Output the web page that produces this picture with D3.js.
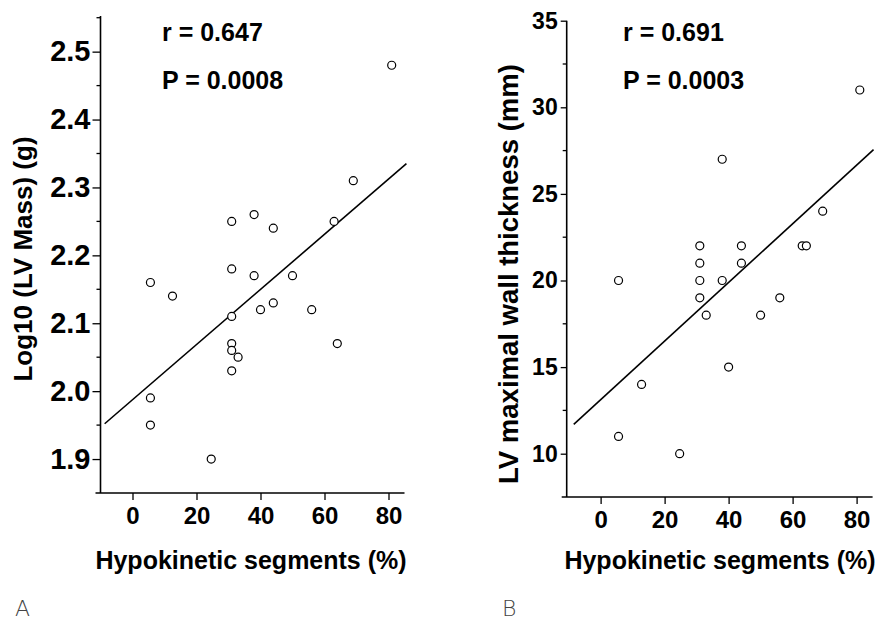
<!DOCTYPE html>
<meta charset="utf-8">
<style>
    html, body {
        margin: 0;
        padding: 0;
        background: #fff;
    }
    svg {
        display: block;
        font-family: "Liberation Sans", Arial, sans-serif;
    }
    .tick text {
        font-weight: bold;
        fill: #000;
    }
    .stat, .title {
        font-weight: bold;
        fill: #000;
    }
    .panel-label {
        font-family: "DejaVu Sans", sans-serif;
        font-weight: 200;
        fill: #444;
    }
</style>
<div id="chart"></div>
<script src="https://d3js.org/d3.v7.min.js"></script>
<script>
    // Panel A: hypokinetic segments (%) vs log10 LV mass
    const hypoA = [81, 69, 63, 31, 38, 44, 31, 38, 50, 5.6, 12.5, 31, 40, 44, 56, 64, 31, 31, 33, 31, 5.6, 5.6, 24.6];
    const massA = [2.48, 2.31, 2.25, 2.25, 2.26, 2.24, 2.18, 2.17, 2.17, 2.16, 2.14, 2.11, 2.12, 2.13, 2.12, 2.07, 2.07, 2.06, 2.05, 2.03, 1.99, 1.95, 1.90];
    const fitA = [[-8.7, 1.952], [85.6, 2.335]];
    const statsA = ["r = 0.647", "P = 0.0008"];
    const yTicksA = [1.9, 2.0, 2.1, 2.2, 2.3, 2.4, 2.5];
    const yMinorA = [1.95, 2.05, 2.15, 2.25, 2.35, 2.45, 2.55];

    // Panel B: hypokinetic segments (%) vs LV maximal wall thickness
    const hypoB = [81, 38, 69.4, 31, 44, 63, 64.3, 31, 44, 5.6, 31, 38, 31, 56, 33, 50, 40, 12.8, 5.6, 24.7];
    const wallB = [31, 27, 24, 22, 22, 22, 22, 21, 21, 20, 20, 20, 19, 19, 18, 18, 15, 14, 11, 10];
    const fitB = [[-8.4, 11.69], [85.3, 27.56]];
    const statsB = ["r = 0.691", "P = 0.0003"];
    const yTicksB = [10, 15, 20, 25, 30, 35];
    const yMinorB = [12.5, 17.5, 22.5, 27.5, 32.5];

    const xTicks = [0, 20, 40, 60, 80];
    const xTitle = "Hypokinetic segments (%)";

    const svg = d3.select("#chart").append("svg")
        .attr("width", 879)
        .attr("height", 624);

    function drawPanel(p) {
        const g = svg.append("g");

        const x = d3.scaleLinear().domain(p.xDomain).range(p.xRange);
        const y = d3.scaleLinear().domain(p.yDomain).range(p.yRange);

        // x axis
        const xAxis = g.append("g")
            .attr("transform", `translate(0,${p.yRange[0]})`)
            .call(d3.axisBottom(x).tickValues(xTicks).tickSize(7).tickSizeOuter(0).tickPadding(7));
        xAxis.select(".domain").remove();
        xAxis.selectAll(".tick line").attr("stroke-width", 1.3);
        xAxis.selectAll(".tick text").style("font-size", p.xTickFont + "px");
        g.append("line")
            .attr("x1", p.xRange[0] - 5).attr("x2", p.xRange[1])
            .attr("y1", p.yRange[0]).attr("y2", p.yRange[0])
            .attr("stroke", "#000").attr("stroke-width", 1.6);

        // y axis
        const yAxis = g.append("g")
            .attr("transform", `translate(${p.xRange[0]},0)`)
            .call(d3.axisLeft(y).tickValues(p.yTicks).tickFormat(p.yFormat)
                .tickSize(p.yTickLen).tickSizeOuter(0).tickPadding(p.yPad));
        yAxis.select(".domain").remove();
        yAxis.selectAll(".tick line").attr("stroke-width", 1.3);
        yAxis.selectAll(".tick text").style("font-size", p.yTickFont + "px");
        g.selectAll(".minor")
            .data(p.yMinor)
            .join("line")
            .attr("x1", p.xRange[0] - 4).attr("x2", p.xRange[0])
            .attr("y1", d => y(d)).attr("y2", d => y(d))
            .attr("stroke", "#000").attr("stroke-width", 1.3);
        g.append("line")
            .attr("x1", p.xRange[0]).attr("x2", p.xRange[0])
            .attr("y1", p.yRange[0]).attr("y2", p.yTop)
            .attr("stroke", "#000").attr("stroke-width", 1.6);

        // regression line
        g.append("path")
            .datum(p.fit)
            .attr("d", d3.line().x(d => x(d[0])).y(d => y(d[1])))
            .attr("fill", "none")
            .attr("stroke", "#000")
            .attr("stroke-width", 1.6);

        // points
        g.selectAll("circle")
            .data(p.xs)
            .join("circle")
            .attr("cx", d => x(d))
            .attr("cy", (d, i) => y(p.ys[i]))
            .attr("r", 4)
            .attr("fill", "#fff")
            .attr("stroke", "#000")
            .attr("stroke-width", 1.2);

        // stats
        g.selectAll(".stat")
            .data(p.stats)
            .join("text")
            .attr("class", "stat")
            .attr("x", p.statX)
            .attr("y", (d, i) => 41 + i * 47.5)
            .style("font-size", "25px")
            .text(d => d);

        // titles
        g.append("text")
            .attr("class", "title")
            .attr("x", p.xTitleX).attr("y", 569)
            .attr("text-anchor", "middle")
            .style("font-size", "25px")
            .text(xTitle);

        g.append("text")
            .attr("class", "title")
            .attr("transform", `translate(${p.yTitleX},${p.yTitleY}) rotate(-90)`)
            .attr("text-anchor", "middle")
            .style("font-size", p.yTitleFont + "px")
            .text(p.yTitle);

        g.append("text")
            .attr("class", "panel-label")
            .attr("x", p.labelX).attr("y", 616)
            .style("font-size", "22px")
            .text(p.label);
    }

    drawPanel({
        xs: hypoA, ys: massA, fit: fitA, stats: statsA,
        xDomain: [-10, 85], xRange: [100.5, 404.5],
        yDomain: [1.85, 2.55], yRange: [493, 17.7], yTop: 16,
        yTicks: yTicksA, yMinor: yMinorA, yFormat: d3.format(".1f"),
        yTickLen: 8, yPad: 2, yTickFont: 29, xTickFont: 24,
        statX: 162,
        xTitleX: 251, yTitleX: 32, yTitleY: 259, yTitleFont: 26,
        yTitle: "Log10 (LV Mass) (g)",
        labelX: 15, label: "A"
    });

    drawPanel({
        xs: hypoB, ys: wallB, fit: fitB, stats: statsB,
        xDomain: [-10.6, 85], xRange: [566.7, 872.6],
        yDomain: [7.5, 35], yRange: [497, 20.7], yTop: 20.7,
        yTicks: yTicksB, yMinor: yMinorB, yFormat: d3.format("d"),
        yTickLen: 6, yPad: 3, yTickFont: 23, xTickFont: 24,
        statX: 623,
        xTitleX: 720, yTitleX: 518, yTitleY: 274, yTitleFont: 27.5,
        yTitle: "LV maximal wall thickness (mm)",
        labelX: 502, label: "B"
    });
</script>
